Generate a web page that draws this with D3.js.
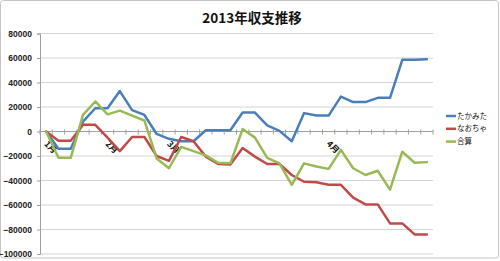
<!DOCTYPE html>
<html>
<head>
<meta charset="utf-8">
<script src="https://cdn.jsdelivr.net/npm/d3@7"></script>
<style>
  body { margin: 0; background: #fff; }
  svg { display: block; }
</style>
</head>
<body>
<div id="chart"></div>
<script>
// カテゴリ(記録日)ごとのラベル — 月初のみ表示
const labels = [
  '1月', '', '', '', '', '2月', '', '', '', '', '3月', '', '', '', '', '',
  '', '', '', '', '', '', '', '4月', '', '', '', '', '', '', '', ''
];

const takamita = [
  0, -14000, -14000, 8000, 19000, 19000, 33000, 17500, 13500, -2000, -6000, -8000, -8000, 1000, 1000, 1000,
  15500, 15500, 5000, 500, -8000, 15000, 13000, 13000, 28500, 24000, 24000, 27500, 27500, 58500, 58500, 59000
];
const naocha = [
  0, -7500, -7500, 5500, 5500, -5000, -16000, -4500, -4500, -20000, -24000, -4500, -8000, -20500, -26500, -27000,
  -13500, -20500, -26500, -26500, -35500, -41000, -41500, -43500, -43500, -54000, -59500, -59500, -75000, -75000, -84000, -84000
];
const gosan = [
  0, -21500, -21500, 13500, 24500, 14000, 17000, 13000, 9000, -22000, -30000, -12500, -16000, -19500, -25500, -26000,
  2000, -5000, -21500, -26000, -43500, -26000, -28500, -30500, -15000, -30000, -35500, -32000, -47500, -16500, -25500, -25000
];

const yTicks = [80000, 60000, 40000, 20000, 0, -20000, -40000, -60000, -80000, -100000];

const series = [
  { name: 'たかみた', values: takamita, color: '#4a7ebb' },
  { name: 'なおちゃ', values: naocha, color: '#be4b48' },
  { name: '合算', values: gosan, color: '#98b954' }
];

const width = 500, height = 261;
const plot = { left: 40, right: 433, top: 33.5, bottom: 254 };
const jp = "'Noto Sans CJK JP', 'Noto Sans', sans-serif";

const svg = d3.select('#chart').append('svg')
  .attr('width', width)
  .attr('height', height);

// 外枠
svg.append('rect')
  .attr('x', 0.5).attr('y', 0.5)
  .attr('width', 498).attr('height', 257.5)
  .attr('rx', 3)
  .attr('fill', '#fff')
  .attr('stroke', '#c4c4c4');

const x = d3.scaleBand()
  .domain(d3.range(labels.length))
  .range([plot.left, plot.right]);

const y = d3.scaleLinear()
  .domain([-100000, 80000])
  .range([plot.bottom, plot.top]);

// グリッド線
svg.append('g')
  .selectAll('line')
  .data(yTicks.filter(t => t !== 0))
  .join('line')
  .attr('x1', plot.left).attr('x2', plot.right)
  .attr('y1', d => y(d)).attr('y2', d => y(d))
  .attr('stroke', '#d4d4d4')
  .attr('stroke-width', 1);

// Y軸
const yAxis = svg.append('g')
  .attr('transform', `translate(${plot.left},0)`)
  .call(d3.axisLeft(y).tickValues(yTicks).tickSize(3).tickPadding(5).tickFormat(d3.format('d')));
yAxis.select('.domain').attr('stroke', '#a0a0a0');
yAxis.selectAll('.tick line').attr('stroke', '#a0a0a0');
yAxis.selectAll('text')
  .attr('font-family', 'Liberation Sans, Arial, sans-serif')
  .attr('font-size', '8.5px')
  .attr('font-weight', 'bold')
  .attr('fill', '#222');

// X軸 (0の位置) と目盛り
const y0 = y(0);
svg.append('line')
  .attr('x1', plot.left).attr('x2', plot.right)
  .attr('y1', y0).attr('y2', y0)
  .attr('stroke', '#a0a0a0');

const boundaries = d3.range(labels.length + 1).map(i => x.step() * i + plot.left);
svg.append('g')
  .selectAll('line')
  .data(boundaries)
  .join('line')
  .attr('x1', d => d).attr('x2', d => d)
  .attr('y1', y0 - 2).attr('y2', y0 + 3)
  .attr('stroke', '#a0a0a0');

// 月ラベル (45度回転)
svg.append('g')
  .selectAll('text')
  .data(labels.map((l, i) => ({ l, i })).filter(d => d.l))
  .join('text')
  .attr('transform', d => `translate(${x(d.i) + x.bandwidth() / 2 - 2.5},${y0 + 13}) rotate(45)`)
  .attr('font-family', jp)
  .attr('font-size', '8.5px')
  .attr('font-weight', 'bold')
  .attr('fill', '#111')
  .text(d => d.l);

// 折れ線
const line = d3.line()
  .x((d, i) => x(i) + x.bandwidth() / 2)
  .y(d => y(d));

svg.append('g')
  .selectAll('path')
  .data(series)
  .join('path')
  .attr('d', d => line(d.values))
  .attr('fill', 'none')
  .attr('stroke', d => d.color)
  .attr('stroke-width', 2.5)
  .attr('stroke-linejoin', 'round')
  .attr('stroke-linecap', 'round');

// タイトル
svg.append('text')
  .attr('x', 252)
  .attr('y', 23)
  .attr('text-anchor', 'middle')
  .attr('font-family', jp)
  .attr('font-size', '13.5px')
  .attr('font-weight', 'bold')
  .attr('fill', '#111')
  .text('2013年収支推移');

// 凡例
const legend = svg.append('g')
  .selectAll('g')
  .data(series)
  .join('g')
  .attr('transform', (d, i) => `translate(446,${116 + i * 12.8})`);

legend.append('line')
  .attr('x1', 0).attr('x2', 10)
  .attr('stroke', d => d.color)
  .attr('stroke-width', 2.5);

legend.append('text')
  .attr('x', 11)
  .attr('dy', '0.35em')
  .attr('font-family', jp)
  .attr('font-size', '7.5px')
  .attr('fill', '#111')
  .text(d => d.name);
</script>
</body>
</html>
